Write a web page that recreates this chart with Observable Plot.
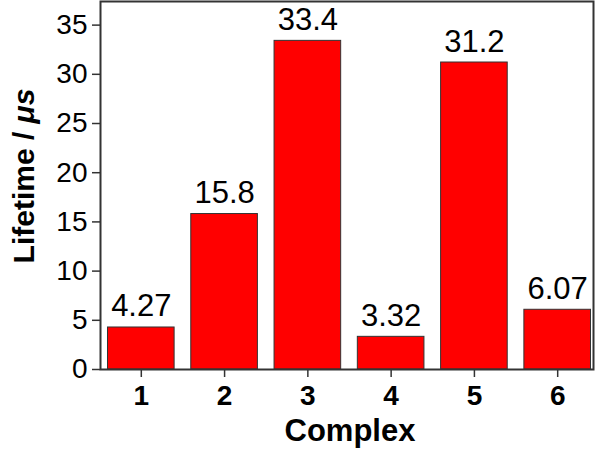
<!DOCTYPE html>
<html><head><meta charset="utf-8">
<script src="https://cdn.jsdelivr.net/npm/d3@7"></script>
<script src="https://cdn.jsdelivr.net/npm/@observablehq/plot@0.6"></script>
<style>
html,body{margin:0;padding:0;background:#fff;}
</style>
</head><body>
<div id="chart"></div>
<script>
const complexes = [1, 2, 3, 4, 5, 6];
const lifetimes = [4.27, 15.8, 33.4, 3.32, 31.2, 6.07];
const valueLabels = ["4.27", "15.8", "33.4", "3.32", "31.2", "6.07"];
const yTicks = [0, 5, 10, 15, 20, 25, 30, 35];

const data = complexes.map((c, i) => ({c, v: lifetimes[i], label: valueLabels[i]}));
const font = "'Liberation Sans', Arial, Helvetica, sans-serif";
const axisColor = "#333";

const plot = Plot.plot({
  width: 600,
  height: 449,
  marginLeft: 100,
  marginRight: 7,
  marginTop: 1,
  marginBottom: 80,
  style: {fontFamily: font, fontSize: "28px", background: "#fff"},
  x: {domain: [0.51, 6.43], label: null},
  y: {domain: [0, 37.4], label: null},
  marks: [
    Plot.rectY(data, {x1: d => d.c - 0.4, x2: d => d.c + 0.4, y1: 0, y2: "v", fill: "#ff0000", stroke: "#333", strokeWidth: 1}),
    Plot.text(data, {x: "c", y: "v", text: "label", lineAnchor: "bottom", dy: -11, fontSize: 31, fill: "#000", fontFamily: font}),
    Plot.axisY({ticks: yTicks, tickFormat: d => String(d), tickSize: 8, tickPadding: 5, fontSize: 28, stroke: axisColor, strokeWidth: 1.5, fill: "#000", label: null}),
    Plot.axisX({ticks: complexes, tickFormat: d => String(d), tickSize: 8, tickPadding: 8, fontSize: 28, fontWeight: "bold", stroke: axisColor, strokeWidth: 1.5, fill: "#000", label: null}),
    Plot.frame({stroke: axisColor, strokeWidth: 2})
  ]
});

const svg = d3.select(plot);
svg.selectAll("g[aria-label='x-axis tick label'] text").style("font-weight", "bold");
svg.append("text")
  .attr("x", 350).attr("y", 441)
  .attr("text-anchor", "middle")
  .attr("font-family", font).attr("font-size", 31).attr("font-weight", "bold")
  .attr("fill", "#000")
  .text("Complex");
const yl = svg.append("text")
  .attr("transform", "translate(34,176) rotate(-90)")
  .attr("text-anchor", "middle")
  .attr("font-family", font).attr("font-size", 30).attr("font-weight", "bold")
  .attr("fill", "#000");
yl.append("tspan").text("Lifetime / ");
yl.append("tspan").attr("font-style", "italic").text("μs");

document.getElementById("chart").appendChild(plot);
</script>
</body></html>
